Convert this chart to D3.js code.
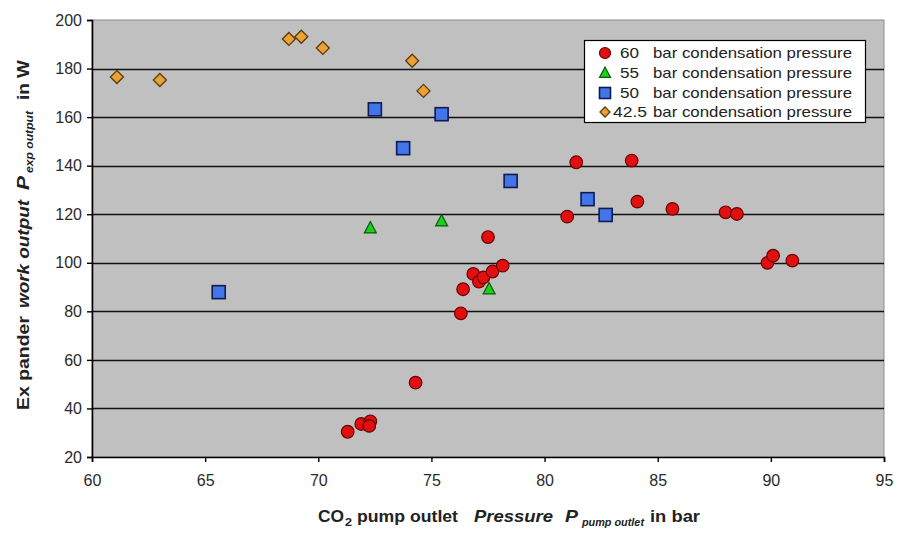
<!DOCTYPE html>
<html>
<head>
<meta charset="utf-8">
<script src="https://cdn.jsdelivr.net/npm/d3@7"></script>
<style>
  html, body { margin: 0; padding: 0; background: #fff; }
  svg { display: block; font-family: "Liberation Sans", Arial, sans-serif; }
</style>
</head>
<body>
<svg id="chart" width="898" height="534"></svg>
<script>
// Expander work output vs. CO2 pump outlet pressure, per condensation pressure
const xTicks = [60, 65, 70, 75, 80, 85, 90, 95];
const yTicks = [20, 40, 60, 80, 100, 120, 140, 160, 180, 200];

const series60 = [
  [71.3, 30.4], [71.9, 33.6], [72.3, 34.7], [72.25, 32.8], [74.3, 50.6],
  [76.3, 79.2], [76.4, 89.1], [76.85, 95.4], [77.1, 92.2], [77.3, 94.0],
  [77.7, 96.4], [78.15, 98.8], [77.5, 110.6],
  [81.0, 119.0], [81.4, 141.4], [83.85, 142.1], [84.1, 125.2], [85.65, 122.2],
  [88.0, 120.8], [88.5, 120.1], [89.85, 100.0], [90.1, 102.9], [90.95, 100.9]
];
const series55 = [[72.3, 114.3], [75.45, 117.2], [77.55, 89.2]];
const series50 = [
  [65.6, 87.9], [72.5, 163.2], [73.75, 147.2], [75.45, 161.2],
  [78.5, 133.7], [81.9, 126.2], [82.7, 119.7]
];
const series425 = [
  [61.1, 176.5], [63.0, 175.3], [68.7, 192.2], [69.25, 193.1],
  [70.2, 188.5], [74.15, 183.2], [74.65, 170.8]
];
const legendNumbers = ["60", "55", "50", "42.5"];
const legendText = "bar condensation pressure";

const svg = d3.select("#chart");
const m = { left: 92, right: 884, top: 20, bottom: 457 };

const x = d3.scaleLinear().domain([60, 95]).range([m.left, m.right]);
const y = d3.scaleLinear().domain([20, 200]).range([m.bottom, m.top]);

// plot area
svg.append("rect")
  .attr("x", m.left).attr("y", m.top)
  .attr("width", m.right - m.left).attr("height", m.bottom - m.top)
  .attr("fill", "#c0c0c0").attr("stroke", "#8c8c8c").attr("stroke-width", 1);

// horizontal gridlines
svg.append("g").selectAll("line")
  .data(yTicks.filter(d => d > 20 && d < 200))
  .join("line")
  .attr("x1", m.left).attr("x2", m.right)
  .attr("y1", d => Math.round(y(d)) + 0.5).attr("y2", d => Math.round(y(d)) + 0.5)
  .attr("stroke", "#111").attr("stroke-width", 1.6);

// axes
const xAxis = d3.axisBottom(x).tickValues(xTicks).tickSize(5).tickPadding(13);
const yAxis = d3.axisLeft(y).tickValues(yTicks).tickSize(5).tickPadding(5);

const gx = svg.append("g").attr("transform", `translate(0,${m.bottom})`).call(xAxis);
const gy = svg.append("g").attr("transform", `translate(${m.left},0)`).call(yAxis);
[gx, gy].forEach(g => {
  g.select(".domain").attr("stroke", "#000").attr("stroke-width", 1.6);
  g.selectAll(".tick line").attr("stroke", "#000").attr("stroke-width", 1.4);
  g.selectAll(".tick text").attr("fill", "#2a2a2a")
    .style("font-size", "16px").style("font-family", "'Liberation Sans', Arial, sans-serif");
});

// marker shapes
const styles = {
  c60: { fill: "#e01010", stroke: "#6a0000" },
  t55: { fill: "#1ccf1c", stroke: "#0a5a0a" },
  s50: { fill: "#4276e8", stroke: "#101a55" },
  d42: { fill: "#eaa236", stroke: "#5a3a08" }
};

function circle(g, cx, cy, r) {
  g.append("circle").attr("cx", cx).attr("cy", cy).attr("r", r)
    .attr("fill", styles.c60.fill).attr("stroke", styles.c60.stroke).attr("stroke-width", 1.2);
}
function triangle(g, cx, cy, s) {
  const h = s * 0.9;
  g.append("path")
    .attr("d", `M${cx},${cy - h * 0.6}L${cx + s / 2},${cy + h * 0.45}L${cx - s / 2},${cy + h * 0.45}Z`)
    .attr("fill", styles.t55.fill).attr("stroke", styles.t55.stroke).attr("stroke-width", 1.2);
}
function square(g, cx, cy, s) {
  g.append("rect").attr("x", cx - s / 2).attr("y", cy - s / 2).attr("width", s).attr("height", s)
    .attr("fill", styles.s50.fill).attr("stroke", styles.s50.stroke).attr("stroke-width", 1.6);
}
function diamond(g, cx, cy, s) {
  const r = s / 2;
  g.append("path")
    .attr("d", `M${cx},${cy - r}L${cx + r},${cy}L${cx},${cy + r}L${cx - r},${cy}Z`)
    .attr("fill", styles.d42.fill).attr("stroke", styles.d42.stroke).attr("stroke-width", 1.3);
}

const pts = svg.append("g");
series425.forEach(d => diamond(pts, x(d[0]), y(d[1]), 13));
series50.forEach(d => square(pts, x(d[0]), y(d[1]), 13));
series55.forEach(d => triangle(pts, x(d[0]), y(d[1]), 12));
series60.forEach(d => circle(pts, x(d[0]), y(d[1]), 6.3));

// legend
const lg = svg.append("g");
lg.append("rect").attr("x", 584.5).attr("y", 40.5).attr("width", 281).attr("height", 82)
  .attr("fill", "#fff").attr("stroke", "#000").attr("stroke-width", 1.2);
const rowY = [53, 73, 93, 112];
const markerFns = [
  (cx, cy) => circle(lg, cx, cy, 5.5),
  (cx, cy) => triangle(lg, cx, cy, 11),
  (cx, cy) => square(lg, cx, cy, 11),
  (cx, cy) => diamond(lg, cx, cy, 10)
];
legendNumbers.forEach((n, i) => {
  markerFns[i](605, rowY[i]);
  lg.append("text").attr("x", i === 3 ? 613 : 620).attr("y", rowY[i] + 5)
    .attr("fill", "#222").style("font-size", "15px")
    .attr("textLength", i === 3 ? 34 : 19).attr("lengthAdjust", "spacingAndGlyphs").text(n);
  lg.append("text").attr("x", 653).attr("y", rowY[i] + 5)
    .attr("fill", "#222").style("font-size", "15px")
    .attr("textLength", 199).attr("lengthAdjust", "spacingAndGlyphs").text(legendText);
});

// axis titles: pieces placed along the baseline
function titlePiece(parent, text, start, len, opts) {
  const t = parent.append("text").attr("x", start).attr("y", opts.dy || 0)
    .attr("fill", "#222").style("font-weight", "bold")
    .style("font-size", (opts.size || 17) + "px")
    .attr("textLength", len).attr("lengthAdjust", "spacingAndGlyphs")
    .text(text);
  if (opts.italic) t.style("font-style", "italic");
  return t;
}

const xt = svg.append("g").attr("transform", "translate(0,522)");
titlePiece(xt, "CO", 318, 26, {});
titlePiece(xt, "2", 345, 7, { size: 11, dy: 4 });
titlePiece(xt, "pump outlet", 357, 101, {});
titlePiece(xt, "Pressure", 474, 79, { italic: true });
titlePiece(xt, "P", 565, 13, { italic: true });
titlePiece(xt, "pump outlet", 582, 62, { italic: true, size: 11, dy: 4 });
titlePiece(xt, "in bar", 650, 50, {});

// rotated frame: x along the title runs upward from the bottom
const yt = svg.append("g").attr("transform", "translate(29,0) rotate(-90)");
titlePiece(yt, "Ex pander", -410, 94, {});
titlePiece(yt, "work output", -308, 108, { italic: true });
titlePiece(yt, "P", -190, 14, { italic: true });
titlePiece(yt, "exp output", -173, 62, { italic: true, size: 11, dy: 4 });
titlePiece(yt, "in W", -100, 40, {});
</script>
</body>
</html>
